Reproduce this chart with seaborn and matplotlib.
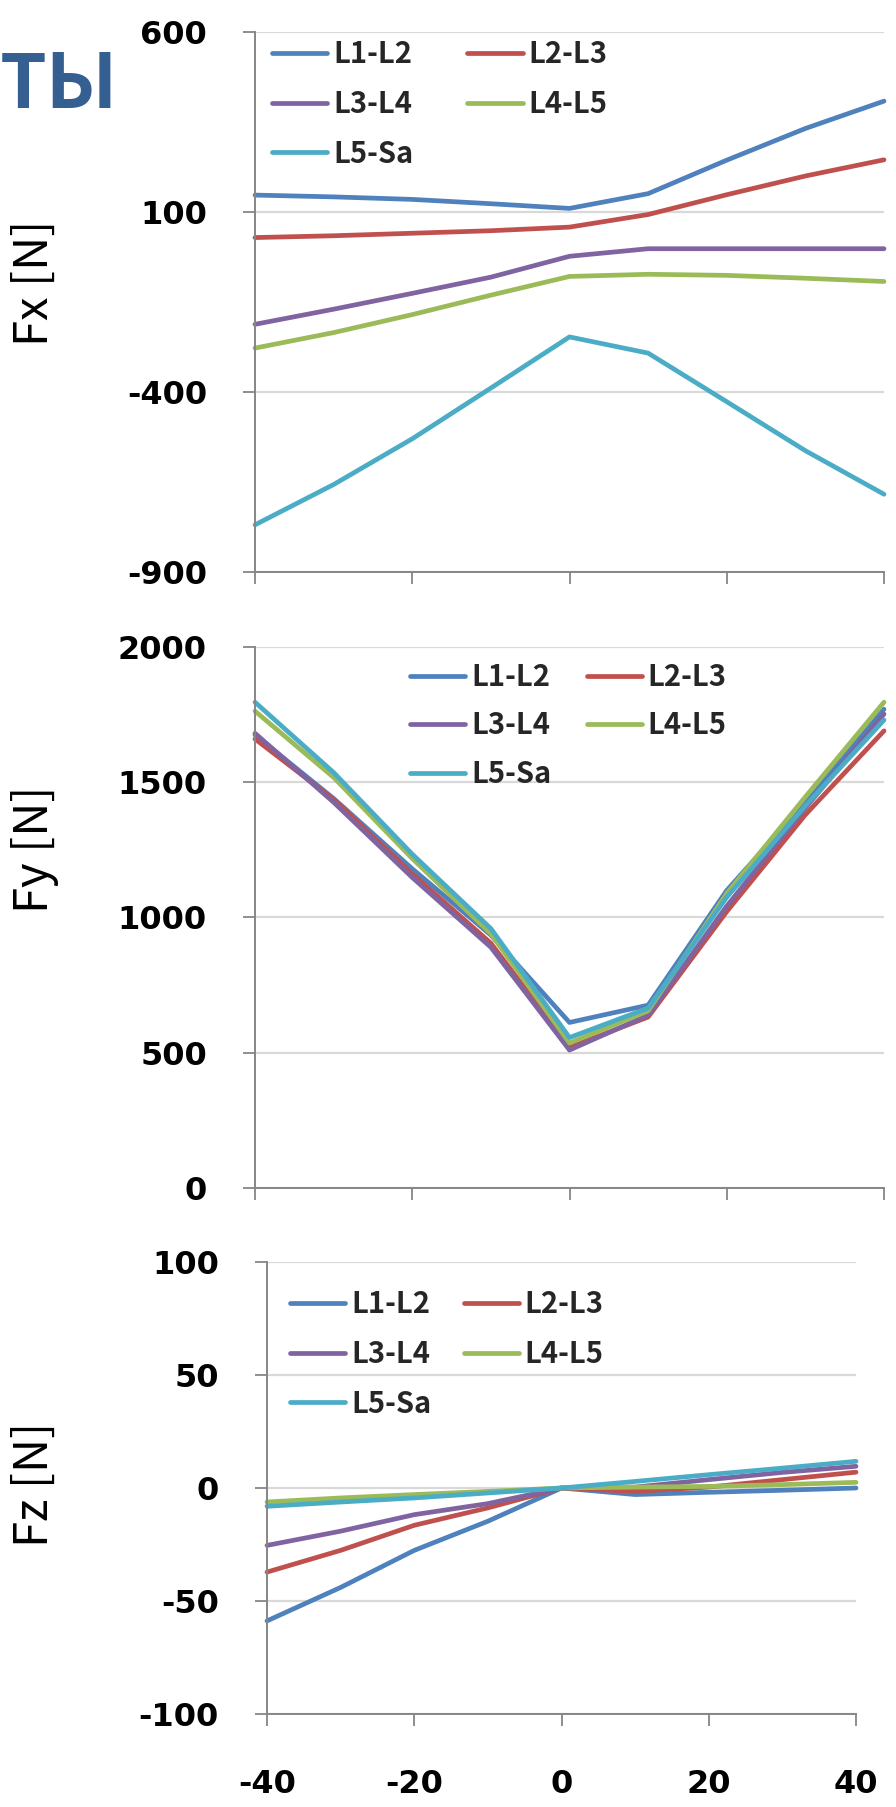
import numpy as np
import pandas as pd
import matplotlib
matplotlib.use("Agg")
import matplotlib.pyplot as plt
import seaborn as sns

# ---------------- data ----------------
angles = [-40, -30, -20, -10, 0, 10, 20, 30, 40]
segments = ["L1-L2", "L2-L3", "L3-L4", "L4-L5", "L5-Sa"]

fx_l1l2 = [147, 142, 135, 123, 110, 151, 244, 332, 408]
fx_l2l3 = [29, 34, 41, 48, 58, 93, 148, 200, 245]
fx_l3l4 = [-212, -170, -126, -81, -23, -2, -2, -2, -2]
fx_l4l5 = [-278, -235, -185, -131, -79, -73, -76, -84, -93]
fx_l5sa = [-769, -657, -530, -389, -247, -292, -427, -563, -684]

fy_l1l2 = [1675, 1440, 1180, 935, 612, 676, 1100, 1425, 1770]
fy_l2l3 = [1660, 1437, 1161, 905, 520, 632, 1022, 1380, 1690]
fy_l3l4 = [1681, 1426, 1148, 890, 510, 639, 1042, 1405, 1752]
fy_l4l5 = [1763, 1518, 1218, 940, 536, 655, 1089, 1446, 1796]
fy_l5sa = [1796, 1536, 1234, 959, 556, 665, 1075, 1413, 1730]

fz_l1l2 = [-58.8, -44.0, -27.6, -14.7, 0, -2.9, -1.9, -1.0, 0.0]
fz_l2l3 = [-37.2, -27.6, -16.5, -8.8, 0, -1.5, 0.4, 3.7, 7.0]
fz_l3l4 = [-25.4, -19.1, -11.8, -6.9, 0, 0.4, 3.7, 6.9, 9.6]
fz_l4l5 = [-6.2, -4.4, -2.9, -1.5, 0, 0.4, 0.7, 1.5, 2.5]
fz_l5sa = [-8.1, -6.2, -4.4, -2.2, 0, 2.9, 5.9, 8.8, 11.8]

x_ticks = [-40, -20, 0, 20, 40]
fx_ticks = [-900, -400, 100, 600]
fy_ticks = [0, 500, 1000, 1500, 2000]
fz_ticks = [-100, -50, 0, 50, 100]

colors = ["#4F81BD", "#C0504D", "#8064A2", "#9BBB59", "#4BACC6"]

# ---------------- style ----------------
sns.set_theme(style="white")
plt.rcParams["font.family"] = ["Noto Sans CJK KR", "DejaVu Sans"]
plt.rcParams["axes.unicode_minus"] = False

W, H = 896, 1807
fig = plt.figure(figsize=(W / 100, H / 100), dpi=100)

GRID = "#D9D9D9"
AXC = "#868686"


def make_df(series):
    rows = []
    for name, vals in zip(segments, series):
        for a, v in zip(angles, vals):
            rows.append({"angle": a, "value": v, "segment": name})
    return pd.DataFrame(rows)


def panel(l, r, t, b, series, ylim, yticks, ylabel, ylab_y, show_xlabels,
          leg_x, leg_top, colspace, labspace):
    ax = fig.add_axes([l / W, 1 - b / H, (r - l) / W, (b - t) / H])
    df = make_df(series)
    sns.lineplot(data=df, x="angle", y="value", hue="segment",
                 hue_order=segments, palette=dict(zip(segments, colors)),
                 estimator=None, sort=False, lw=3.4, legend=False, ax=ax)
    for ln in ax.lines:
        ln.set_clip_on(False)
        ln.set_solid_capstyle("round")
        ln.set_solid_joinstyle("round")
    ax.set_xlim(-40, 40)
    ax.set_ylim(*ylim)
    ax.set_xticks(x_ticks)
    ax.set_yticks(yticks)
    ax.set_xlabel("")
    ax.set_ylabel("")
    ax.yaxis.grid(True, color=GRID, lw=1.6)
    ax.xaxis.grid(False)
    ax.set_axisbelow(True)
    for s in ["top", "right"]:
        ax.spines[s].set_visible(False)
    for s in ["left", "bottom"]:
        ax.spines[s].set_color(AXC)
        ax.spines[s].set_linewidth(1.4)
    ax.tick_params(axis="both", direction="out", length=8.6, width=1.3,
                   color=AXC, labelsize=23, labelcolor="black")
    ax.tick_params(axis="y", pad=26, left=True)
    ax.tick_params(axis="x", pad=31, bottom=True, labelbottom=show_xlabels)
    for lbl in ax.get_yticklabels() + ax.get_xticklabels():
        lbl.set_fontweight("bold")
        lbl.set_fontfamily(["DejaVu Sans"])
    fig.text(35 / W, 1 - ylab_y / H, ylabel, rotation=90, fontsize=34,
             ha="center", va="center", color="black")
    hs = ax.lines[:5]
    order = [0, 2, 4, 1, 3]
    ax.legend([hs[i] for i in order], [segments[i] for i in order], ncol=2,
              loc="upper left", bbox_to_anchor=(leg_x / W, 1 - leg_top / H),
              bbox_transform=fig.transFigure, frameon=False,
              prop={"size": 21, "weight": "bold"}, handlelength=1.9,
              handletextpad=0.2, columnspacing=colspace, labelspacing=labspace,
              borderpad=0, borderaxespad=0)
    return ax


panel(255, 884, 32, 572,
      [fx_l1l2, fx_l2l3, fx_l3l4, fx_l4l5, fx_l5sa],
      (-900, 600), fx_ticks, "Fx [N]", 283, False, 272, 39, 1.85, 0.68)
panel(255, 884, 647, 1188,
      [fy_l1l2, fy_l2l3, fy_l3l4, fy_l4l5, fy_l5sa],
      (0, 2000), fy_ticks, "Fy [N]", 849, False, 410, 662, 1.2, 0.63)
panel(267, 856, 1262, 1714,
      [fz_l1l2, fz_l2l3, fz_l3l4, fz_l4l5, fz_l5sa],
      (-100, 100), fz_ticks, "Fz [N]", 1484, True, 290, 1289, 1.1, 0.68)

fig.text(0, 1 - 108 / H, "ТЫ", fontsize=54, fontweight="bold",
         color="#355F91", ha="left", va="baseline")

fig.savefig("out.png", dpi=100)
